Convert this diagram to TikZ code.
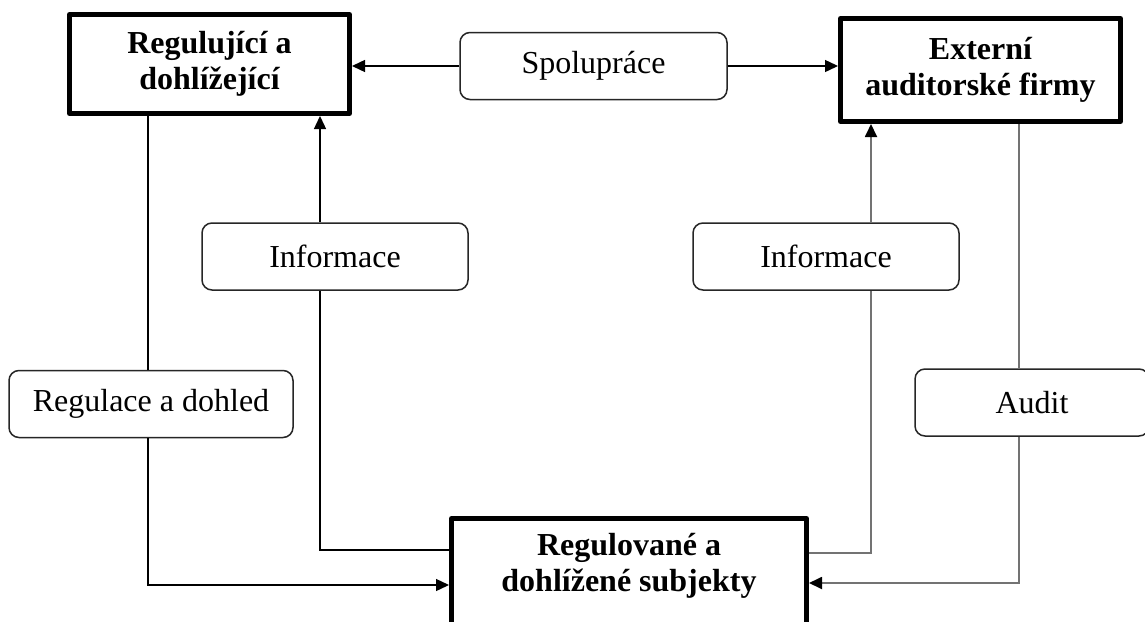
\documentclass[tikz,border=0pt]{standalone}
\usepackage{fontspec}
\setmainfont{Liberation Serif}
\usetikzlibrary{arrows.meta}
\begin{document}
\begin{tikzpicture}[x=1pt,y=-1pt,
  txt/.style={font=\fontsize{32}{36}\selectfont, align=center, text=black},
  mainbox/.style={txt, draw=black, line width=5pt, line join=round, fill=white,
    inner sep=0pt, outer sep=2.5pt, font=\fontsize{32}{36}\selectfont\bfseries},
  tagbox/.style={txt, draw=black!85, line width=1.5pt, rounded corners=10pt, fill=white,
    inner sep=0pt, outer sep=0.75pt, minimum height=67pt},
  link/.style={line width=1.4pt, draw=black},
  glink/.style={line width=1.8pt, draw=black!55},
  tip/.style={-{Triangle[length=13pt,width=12pt,color=black]}},
]
\useasboundingbox (0,0) rectangle (1145,621);
\clip (0,0) rectangle (1145,621);
\fill[white] (0,0) rectangle (1145,621);

% main parties
\node[mainbox, minimum width=280pt, minimum height=99pt] (A) at (209.5,64) {Regulující a\\dohlížející};
\node[mainbox, minimum width=280pt, minimum height=103pt] (B) at (980.5,70) {Externí\\auditorské firmy};
\node[mainbox, minimum width=355pt, anchor=north, inner ysep=15pt] (C) at (629,516)
  {Regulované a\\dohlížené subjekty\\\rule{0pt}{45pt}};

% relation labels
\node[tagbox, minimum width=267pt] (S) at (593.5,66) {Spolupráce};
\node[tagbox, minimum width=266pt] (I1) at (335,256.5) {Informace};
\node[tagbox, minimum width=266pt] (I2) at (826,256.5) {Informace};
\node[tagbox, minimum width=284pt] (R) at (151,404) {Regulace a dohled};
\node[tagbox, minimum width=234pt] (Au) at (1032,402.5) {Audit};

% routing lanes
\coordinate (xR) at (148,0);
\coordinate (xI) at (320,0);
\coordinate (xI2) at (871,0);
\coordinate (xAu) at (1019,0);
\coordinate (yInL) at (0,585);
\coordinate (yInR) at (0,583);
\coordinate (yOutL) at (0,550);
\coordinate (yOutR) at (0,553);

% connectors
\draw[link, tip] (S.west) -- (S.west -| A.east);
\draw[link, tip] (S.east) -- (S.east -| B.west);
\draw[link] (xR |- A.south) -- (xR |- R.north);
\draw[link, tip] (xR |- R.south) |- (C.west |- yInL);
\draw[link] (C.west |- yOutL) -| (xI |- I1.south);
\draw[link, tip] (xI |- I1.north) -- (xI |- A.south);
\draw[glink] (C.east |- yOutR) -| (xI2 |- I2.south);
\draw[glink, tip] (xI2 |- I2.north) -- (xI2 |- B.south);
\draw[glink] (xAu |- B.south) -- (xAu |- Au.north);
\draw[glink, tip] (xAu |- Au.south) |- (C.east |- yInR);
\end{tikzpicture}
\end{document}
